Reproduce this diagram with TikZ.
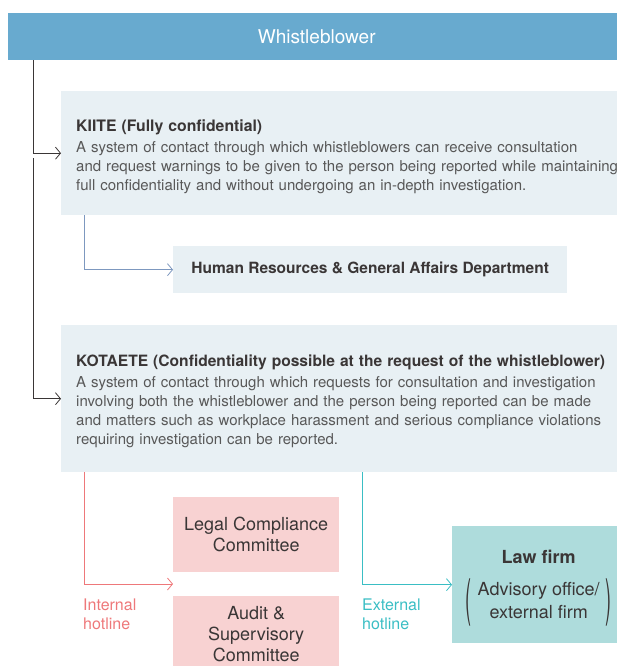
\documentclass[tikz,border=0pt]{standalone}
\usepackage{fontspec}
\setmainfont{TeX Gyre Heros}
\usetikzlibrary{arrows.meta,positioning}
\definecolor{wbblue}{RGB}{104,170,207}
\definecolor{paleblue}{RGB}{232,240,244}
\definecolor{hrline}{RGB}{125,152,191}
\definecolor{intred}{RGB}{238,120,122}
\definecolor{pinkbox}{RGB}{248,210,210}
\definecolor{extteal}{RGB}{58,190,196}
\definecolor{tealbox}{RGB}{174,220,220}
\definecolor{darktext}{RGB}{58,54,54}
\definecolor{greytext}{RGB}{88,88,88}
\newcommand{\bodysize}{\fontsize{15}{19}\selectfont}
\newcommand{\boxsize}{\fontsize{18}{21}\selectfont}
\newcommand{\tallparen}[1]{\vcenter{\hbox{\scalebox{1}[2.8]{#1}}}}

\begin{document}
\begin{tikzpicture}[x=1pt,y=-1pt,
    headbox/.style={fill=wbblue,text=white,anchor=north west,inner sep=0pt,
        minimum width=617pt,minimum height=47pt,font=\fontsize{19}{22}\selectfont},
    sysbox/.style={fill=paleblue,text=greytext,anchor=north west,inner xsep=15pt,
        text width=570pt,align=left,font=\bodysize},
    commbox/.style={fill=pinkbox,text=darktext,anchor=north west,inner sep=0pt,
        minimum width=166pt,align=center,font=\boxsize},
    link/.style={line width=0.8pt,-{Straight Barb[length=5pt,width=12pt]}},
    hotline/.style={anchor=north west,inner sep=0pt,align=left,font=\fontsize{16}{19}\selectfont}]
    \useasboundingbox (0,0) rectangle (617,666);
    % top of the chart
    \node[headbox] (head) at (8,13) {Whistleblower};
    \node[sysbox,minimum height=124pt] (kiite) at (61,91)
        {\rule{0pt}{18pt}{\color{darktext}\fontsize{15.8}{19}\selectfont\bfseries KIITE (Fully confidential)}\\[2pt]
         A system of contact through which whistleblowers can receive consultation\\
         and request warnings to be given to the person being reported while maintaining\\
         full confidentiality and without undergoing an in-depth investigation.};
    \node[fill=paleblue,text=darktext,anchor=north west,inner xsep=18pt,
        minimum width=394pt,minimum height=47pt,font=\fontsize{15.5}{19}\selectfont\bfseries] (hr) at (173,246)
        {Human Resources \& General Affairs Department};
    \node[sysbox,minimum height=147pt] (kotaete) at (61,325)
        {\rule{0pt}{17pt}{\color{darktext}\fontsize{15.6}{19}\selectfont\bfseries KOTAETE (Confidentiality possible at the request of the whistleblower)}\\[2pt]
         A system of contact through which requests for consultation and investigation\\
         involving both the whistleblower and the person being reported can be made\\
         and matters such as workplace harassment and serious compliance violations\\
         requiring investigation can be reported.};
    % committees and outside office
    \node[commbox,minimum height=75pt] (legal) at (173,497) {Legal Compliance\\Committee};
    \node[commbox,minimum height=76pt] (audit) at (173,596) {Audit \&\\Supervisory\\Committee};
    \node[fill=tealbox,text=darktext,anchor=north west,inner sep=0pt,minimum width=173pt,
        minimum height=117pt,align=center,font=\boxsize] (law) at (452,526)
        {\rule{0pt}{21pt}\textbf{Law firm}\\[14pt]
         $\tallparen{(}\hspace{6pt}\vcenter{\hbox{\begin{tabular}{@{}c@{}}Advisory office/\\[2pt]external firm\end{tabular}}}\hspace{6pt}\tallparen{)}$};
    \node[hotline,text=intred] (inthot) at (83,599) {Internal\\hotline};
    \node[hotline,text=extteal] (exthot) at (362,599) {External\\hotline};
    % connectors
    \coordinate (split) at (33,158);
    \coordinate (inttip) at (173,584);
    \draw[link,darktext] ([xshift=25pt]head.south west) |- (kiite.west);
    \draw[link,darktext] (split) |- (kotaete.west);
    \draw[link,hrline] ([xshift=23pt]kiite.south west) |- (hr.west);
    \draw[link,intred] ([xshift=23pt]kotaete.south west) |- (inttip);
    \draw[link,extteal] ([xshift=301pt]kotaete.south west) |- (law.west);
\end{tikzpicture}
\end{document}
